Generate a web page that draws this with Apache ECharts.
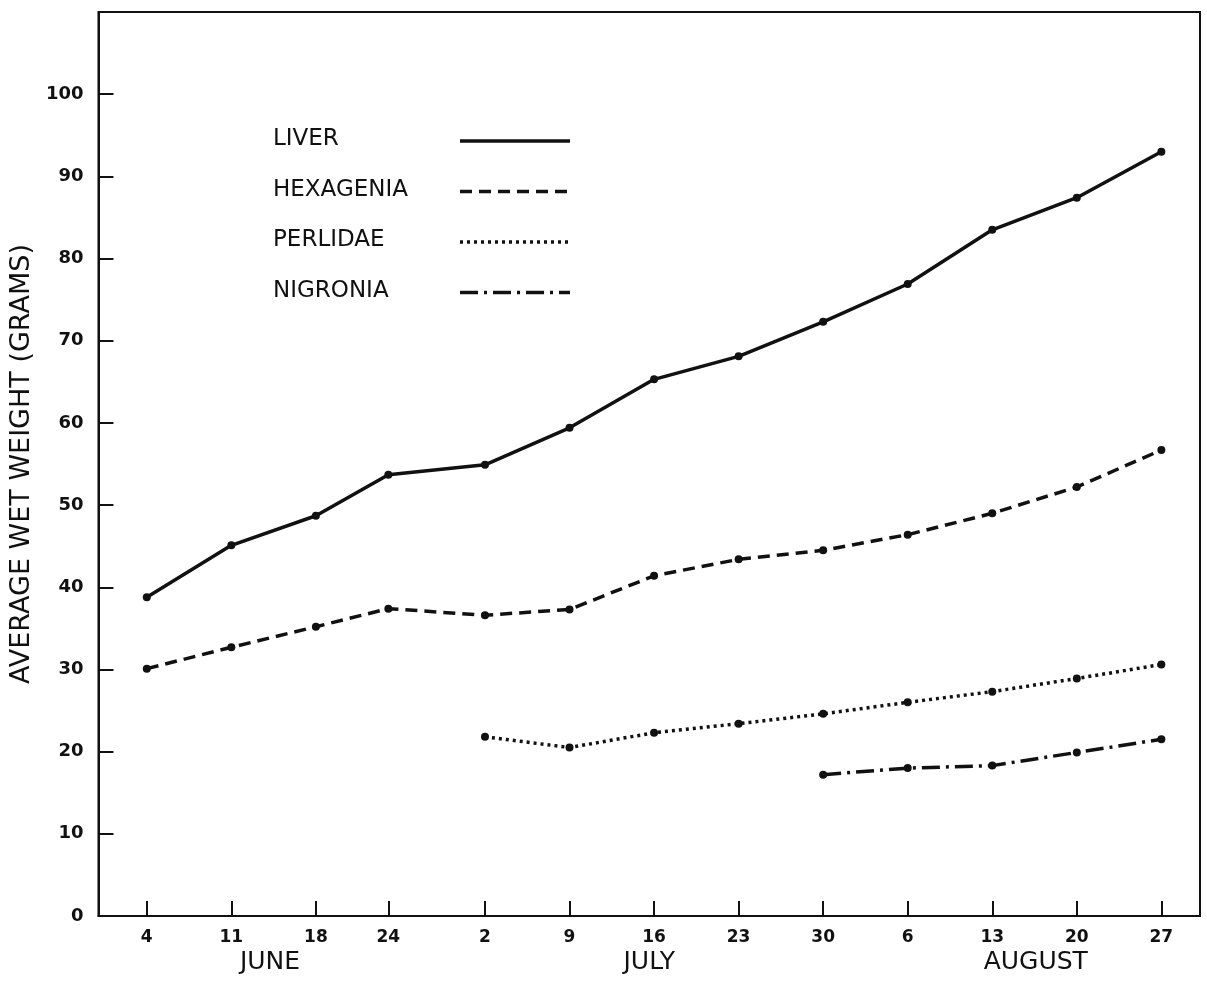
<!DOCTYPE html>
<html>
<head>
<meta charset="utf-8">
<script src="https://cdn.jsdelivr.net/npm/echarts@6/dist/echarts.min.js"></script>
<style>
  html, body { margin: 0; padding: 0; background: #fff; }
  #chart { width: 1207px; height: 981px; }
</style>
</head>
<body>
<div id="chart"></div>
<script>
// sampling dates as days counted from 31 May
const sampleDays = [4, 11, 18, 24, 32, 39, 46, 53, 60, 67, 74, 81, 88];
const dayLabels = ['4', '11', '18', '24', '2', '9', '16', '23', '30', '6', '13', '20', '27'];
const monthNames = ['JUNE', 'JULY', 'AUGUST'];
const monthLabelAt = [14.2, 45.6, 77.6];
const yTicks = [0, 10, 20, 30, 40, 50, 60, 70, 80, 90, 100];

// average wet weight (grams); null = not sampled
const liver = [38.8, 45.1, 48.7, 53.7, 54.9, 59.4, 65.3, 68.1, 72.3, 76.9, 83.5, 87.4, 93.0];
const hexagenia = [30.1, 32.7, 35.2, 37.4, 36.6, 37.3, 41.4, 43.4, 44.5, 46.4, 49.0, 52.2, 56.7];
const perlidae = [null, null, null, null, 21.8, 20.5, 22.3, 23.4, 24.6, 26.0, 27.3, 28.9, 30.6];
const nigronia = [null, null, null, null, null, null, null, null, 17.2, 18.0, 18.3, 19.9, 21.5];

const seriesNames = ['LIVER', 'HEXAGENIA', 'PERLIDAE', 'NIGRONIA'];
const seriesValues = [liver, hexagenia, perlidae, nigronia];
const dashTypes = ['solid', [12, 7], [3, 4], [18, 6, 3, 6]];

const ink = '#111';
const chart = echarts.init(document.getElementById('chart'));

function pairs(vals) {
    const out = [];
    vals.forEach((v, i) => {
        if (v !== null) out.push([sampleDays[i], v]);
    });
    return out;
}

const series = seriesNames.map((name, k) => ({
    name: name,
    type: 'line',
    data: pairs(seriesValues[k]),
    symbol: 'circle',
    symbolSize: 8,
    itemStyle: { color: ink },
    lineStyle: { color: ink, width: 3.5, type: dashTypes[k] },
    silent: true,
    z: 5
}));

// legend drawn by hand: text on the left, line sample on the right
const legendGraphics = [];
seriesNames.forEach((name, k) => {
    const y = 141 + k * 50.5;
    legendGraphics.push({
        type: 'text',
        left: 273,
        top: y - 13,
        style: { text: name, fill: ink, font: '23px "DejaVu Sans", sans-serif' }
    });
    legendGraphics.push({
        type: 'line',
        shape: { x1: 460, y1: y, x2: 570, y2: y },
        style: { stroke: ink, lineWidth: 3.5, lineDash: dashTypes[k] === 'solid' ? null : dashTypes[k] }
    });
});

const option = {
    backgroundColor: '#fff',
    animation: false,
    grid: {
        left: 97, right: 7, top: 12, bottom: 65,
        show: true, borderColor: ink, borderWidth: 2
    },
    xAxis: [
        {
            type: 'value',
            min: 0,
            max: 91.2,
            splitLine: { show: false },
            axisLine: { lineStyle: { color: ink, width: 2 } },
            axisTick: { inside: true, length: 15, customValues: sampleDays, lineStyle: { color: ink, width: 2 } },
            axisLabel: {
                customValues: sampleDays,
                formatter: v => dayLabels[sampleDays.indexOf(v)],
                color: ink, fontSize: 17, fontWeight: 'bold', margin: 13,
                fontFamily: 'DejaVu Sans'
            }
        },
        {
            type: 'value',
            position: 'bottom',
            min: 0,
            max: 91.2,
            splitLine: { show: false },
            axisLine: { show: false },
            axisTick: { show: false },
            axisLabel: {
                customValues: monthLabelAt,
                formatter: v => monthNames[monthLabelAt.indexOf(v)],
                color: ink, fontSize: 25, margin: 34,
                fontFamily: 'DejaVu Sans'
            }
        }
    ],
    yAxis: {
        type: 'value',
        min: 0,
        max: 110,
        name: 'AVERAGE WET WEIGHT (GRAMS)',
        nameLocation: 'middle',
        nameGap: 62,
        nameTextStyle: { color: ink, fontSize: 27, fontFamily: 'DejaVu Sans' },
        splitLine: { show: false },
        axisLine: { lineStyle: { color: ink, width: 2 } },
        axisTick: { inside: true, length: 15, customValues: yTicks, lineStyle: { color: ink, width: 2 } },
        axisLabel: {
            customValues: yTicks,
            color: ink, fontSize: 18, fontWeight: 'bold', margin: 15,
            fontFamily: 'DejaVu Sans'
        }
    },
    graphic: legendGraphics,
    series: series
};

chart.setOption(option);
</script>
</body>
</html>
